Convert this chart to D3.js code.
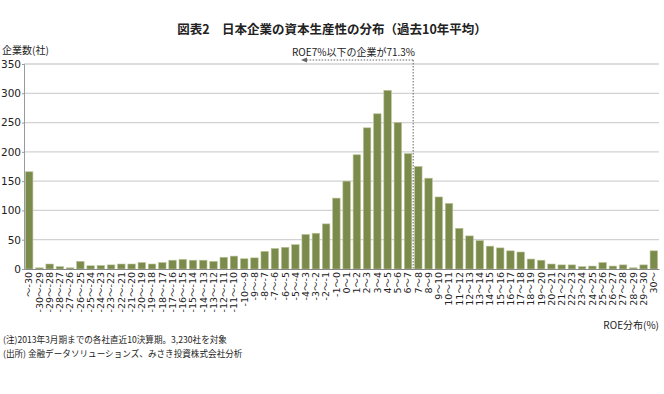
<!doctype html>
<html>
  <head>
    <meta charset="utf-8">
    <script src="https://cdnjs.cloudflare.com/ajax/libs/d3/7.8.5/d3.min.js"></script>
    <style>
      body { margin: 0; background: #fff; }
      svg { font-family: "Noto Sans CJK JP", "Noto Sans", sans-serif; }
    </style>
  </head>
  <body>
    <svg id="chart" width="664" height="394"></svg>
    <script>
        // ROE buckets: "～-30", "-30～-29" ... "29～30", "30～"
        var lows = d3.range(-30, 30);
        var categories = ["～-30"].concat(lows.map(d => d + "～" + (d + 1)), ["30～"]);

        // number of companies in each bucket
        var counts = [166, 2, 8.5, 4, 2, 13, 5.5, 6, 7, 8.5,
                      8.5, 11, 8.5, 11, 15, 16.5, 15, 15, 13, 20,
                      22, 17.5, 19, 30, 35, 37, 41.5, 59, 61, 77,
                      121, 150, 195, 241, 265, 305, 250, 197, 175, 155,
                      123, 112, 69.5, 56.5, 48.5, 39, 36, 31, 29, 17,
                      15, 8.5, 7, 7, 4, 5, 11, 5, 7, 2,
                      7, 31];

        var yTicks = [0, 50, 100, 150, 200, 250, 300, 350];

        var numFont = "'DejaVu Sans', 'Noto Sans CJK JP', sans-serif";

        var svg = d3.select("#chart");
        var plotLeft = 24, plotRight = 659, plotTop = 64, plotBottom = 269;

        var x = d3.scaleBand()
            .domain(categories)
            .range([plotLeft, plotRight])
            .paddingInner(0.27)
            .paddingOuter(0.14);

        var y = d3.scaleLinear()
            .domain([0, 350])
            .range([plotBottom, plotTop]);

        // grid
        svg.append("g").selectAll("line")
            .data(yTicks.filter(d => d > 0))
            .enter()
            .append("line")
                .attr("x1", plotLeft)
                .attr("x2", plotRight)
                .attr("y1", d => y(d))
                .attr("y2", d => y(d))
                .style("stroke", "#d2d2d2")
                .style("stroke-width", 1.3);

        // y axis
        var yAxis = svg.append("g")
            .attr("transform", "translate(" + plotLeft + ",0)")
            .call(d3.axisLeft(y).tickValues(yTicks).tickSize(2).tickPadding(1));
        yAxis.select(".domain").style("stroke", "#9a9a9a");
        yAxis.selectAll(".tick line").style("stroke", "#9a9a9a");
        yAxis.selectAll("text")
            .style("font-size", "10.5px")
            .style("fill", "#222")
            .attr("font-family", numFont);

        // bars
        svg.append("g").selectAll("rect")
            .data(counts)
            .enter()
            .append("rect")
                .attr("x", (d, i) => x(categories[i]))
                .attr("width", x.bandwidth())
                .attr("y", d => y(d))
                .attr("height", d => y(0) - y(d))
                .style("fill", "#7a8b4b")
                .style("stroke", "#b9c297")
                .style("stroke-width", 0.6);

        // x axis
        var xAxis = svg.append("g")
            .attr("transform", "translate(0," + plotBottom + ")")
            .call(d3.axisBottom(x).tickSize(0).tickPadding(0));
        xAxis.select(".domain").style("stroke", "#888").style("stroke-width", 1.2);
        xAxis.selectAll("text")
            .attr("transform", "rotate(-90)")
            .attr("x", -3)
            .attr("y", 0)
            .attr("dy", "0.35em")
            .attr("font-family", numFont)
            .style("text-anchor", "end")
            .style("font-size", "9.5px")
            .style("fill", "#222");

        // 7% marker
        var cut = x(categories[38]) - x.step() * x.paddingInner() / 2;
        svg.append("line")
            .attr("x1", cut).attr("x2", cut)
            .attr("y1", 60).attr("y2", plotBottom)
            .style("stroke", "#666")
            .style("stroke-dasharray", "1.5,1.5");
        svg.append("line")
            .attr("x1", cut).attr("x2", 306)
            .attr("y1", 60).attr("y2", 60)
            .style("stroke", "#666")
            .style("stroke-dasharray", "1.5,1.5");
        svg.append("path")
            .attr("d", "M301,60 L307,57.5 L307,62.5 Z")
            .style("fill", "#666");

        svg.append("text")
            .attr("x", 292).attr("y", 56)
            .style("font-size", "10px")
            .style("fill", "#222")
            .text("ROE7%以下の企業が71.3%");

        // titles
        svg.append("text")
            .attr("x", 332).attr("y", 34)
            .attr("text-anchor", "middle")
            .style("font-size", "12.5px")
            .style("font-weight", "bold")
            .style("fill", "#222")
            .text("図表2　日本企業の資本生産性の分布（過去10年平均）");

        svg.append("text")
            .attr("x", 2).attr("y", 54)
            .style("font-size", "10px")
            .style("fill", "#222")
            .text("企業数(社)");

        svg.append("text")
            .attr("x", 659).attr("y", 329)
            .attr("text-anchor", "end")
            .style("font-size", "10px")
            .style("fill", "#222")
            .text("ROE分布(%)");

        svg.append("text")
            .attr("x", 3).attr("y", 343)
            .style("font-size", "8.6px")
            .style("fill", "#222")
            .text("(注)2013年3月期までの各社直近10決算期。3,230社を対象");
        svg.append("text")
            .attr("x", 3).attr("y", 357)
            .style("font-size", "8.6px")
            .style("fill", "#222")
            .text("(出所) 金融データソリューションズ、みさき投資株式会社分析");
    </script>
  </body>
</html>
